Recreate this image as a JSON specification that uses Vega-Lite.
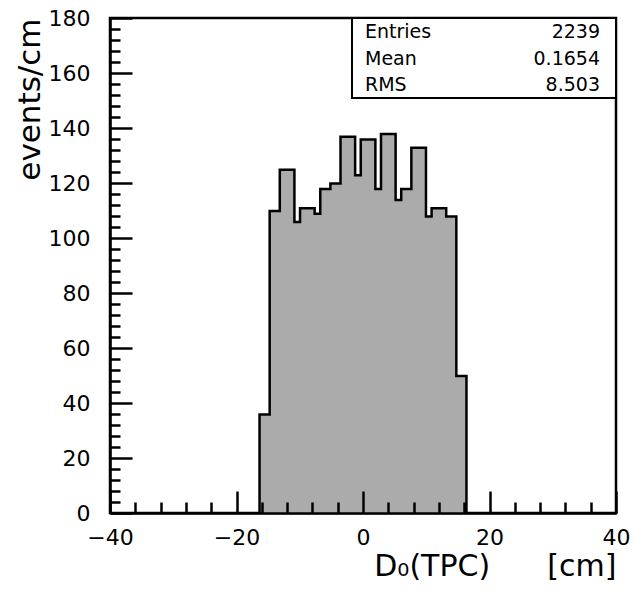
{
  "$schema": "https://vega.github.io/schema/vega-lite/v6.json",
  "width": 506,
  "height": 495,
  "autosize": "none",
  "padding": {"left": 110, "top": 18, "right": 17, "bottom": 78},
  "background": "white",
  "config": {
    "view": {"stroke": "black", "strokeWidth": 2.5},
    "axis": {
      "domainColor": "black", "domainWidth": 2.5, "tickColor": "black", "tickWidth": 2.5,
      "labelFont": "DejaVu Sans", "labelColor": "black",
      "titleFont": "DejaVu Sans", "titleColor": "black", "titleFontWeight": "normal",
      "grid": false, "zindex": 2, "labelOverlap": false, "labelFlush": false
    }
  },
  "data": {
    "values": [
      {"lo": -16.0, "hi": -14.4, "count": 35},
      {"lo": -14.4, "hi": -12.8, "count": 109},
      {"lo": -12.8, "hi": -11.2, "count": 124},
      {"lo": -11.2, "hi": -9.6, "count": 105},
      {"lo": -9.6, "hi": -8.0, "count": 110},
      {"lo": -8.0, "hi": -6.4, "count": 108},
      {"lo": -6.4, "hi": -4.8, "count": 117},
      {"lo": -4.8, "hi": -3.2, "count": 119},
      {"lo": -3.2, "hi": -1.6, "count": 136},
      {"lo": -1.6, "hi": 0.0, "count": 122},
      {"lo": 0.0, "hi": 1.6, "count": 135},
      {"lo": 1.6, "hi": 3.2, "count": 117},
      {"lo": 3.2, "hi": 4.8, "count": 137},
      {"lo": 4.8, "hi": 6.4, "count": 113},
      {"lo": 6.4, "hi": 8.0, "count": 117},
      {"lo": 8.0, "hi": 9.6, "count": 132},
      {"lo": 9.6, "hi": 11.2, "count": 107},
      {"lo": 11.2, "hi": 12.8, "count": 110},
      {"lo": 12.8, "hi": 14.4, "count": 107},
      {"lo": 14.4, "hi": 16.0, "count": 49}
    ]
  },
  "layer": [
    {
      "mark": {"type": "bar", "fill": "#ababab", "stroke": "black", "strokeWidth": 7, "strokeJoin": "miter", "clip": true},
      "encoding": {
        "x": {"field": "lo", "type": "quantitative", "scale": {"domain": [-40, 40], "nice": false, "zero": false}, "axis": null},
        "x2": {"field": "hi"},
        "y": {"field": "count", "type": "quantitative", "scale": {"domain": [0, 180], "nice": false, "zero": false}, "axis": null},
        "y2": {"datum": 0}
      }
    },
    {
      "mark": {"type": "bar", "fill": "#ababab", "stroke": "#ababab", "strokeWidth": 2},
      "encoding": {
        "x": {"field": "lo", "type": "quantitative", "scale": {"domain": [-40, 40], "nice": false, "zero": false}, "axis": null},
        "x2": {"field": "hi"},
        "y": {"field": "count", "type": "quantitative", "scale": {"domain": [0, 180], "nice": false, "zero": false}, "axis": null},
        "y2": {"datum": 0}
      }
    },
    {
      "mark": {"type": "bar", "opacity": 0},
      "encoding": {
        "x": {"field": "lo", "type": "quantitative", "scale": {"domain": [-40, 40], "nice": false, "zero": false},
              "axis": {"orient": "bottom", "zindex": 2, "ticks": true, "domain": true,
                       "values": [-40,-36,-32,-28,-24,-20,-16,-12,-8,-4,0,4,8,12,16,20,24,28,32,36,40],
                       "tickSize": {"condition": {"test": "datum.value % 20 === 0", "value": -22}, "value": -11},
                       "labelExpr": "datum.value % 20 === 0 ? datum.label : ''",
                       "labelFontSize": {"condition": {"test": "datum.value % 20 === 0", "value": 22}, "value": 0},
                       "labelPadding": 36,
                       "title": "D₀(TPC)\u00a0\u00a0\u00a0\u00a0\u00a0\u00a0[cm]", "titleFontSize": 30, "titleAnchor": "end", "titlePadding": 3}},
        "x2": {"field": "hi"},
        "y": {"field": "count", "type": "quantitative", "scale": {"domain": [0, 180], "nice": false, "zero": false},
              "axis": {"orient": "left", "zindex": 2, "ticks": true, "domain": true,
                       "values": [0,4,8,12,16,20,24,28,32,36,40,44,48,52,56,60,64,68,72,76,80,84,88,92,96,100,104,108,112,116,120,124,128,132,136,140,144,148,152,156,160,164,168,172,176,180],
                       "tickSize": {"condition": {"test": "datum.value % 20 === 0", "value": -22}, "value": -10},
                       "labelExpr": "datum.value % 20 === 0 ? datum.label : ''",
                       "labelFontSize": {"condition": {"test": "datum.value % 20 === 0", "value": 22}, "value": 0},
                       "labelPadding": 42,
                       "title": "events/cm", "titleFontSize": 31, "titleAnchor": "end", "titlePadding": 2}},
        "y2": {"datum": 0}
      }
    },
    {
      "data": {"values": [{"box": "stats"}]},
      "mark": {"type": "rect", "fill": "white", "stroke": "black", "strokeWidth": 2},
      "encoding": {
        "x": {"datum": -1.74, "type": "quantitative", "scale": {"domain": [-40, 40], "nice": false, "zero": false}, "axis": null},
        "x2": {"datum": 40},
        "y": {"datum": 150.9, "type": "quantitative", "scale": {"domain": [0, 180], "nice": false, "zero": false}, "axis": null},
        "y2": {"datum": 180}
      }
    },
    {
      "data": {"values": [{"stat": "Entries", "value": "2239"}]},
      "encoding": {
        "y": {"datum": 172.7, "type": "quantitative", "scale": {"domain": [0, 180], "nice": false, "zero": false}, "axis": null}
      },
      "layer": [
        {"mark": {"type": "text", "font": "DejaVu Sans", "fontSize": 19, "align": "left", "baseline": "alphabetic", "dx": 13, "color": "black"},
         "encoding": {"x": {"datum": -1.74, "type": "quantitative", "scale": {"domain": [-40, 40], "nice": false, "zero": false}, "axis": null}, "text": {"field": "stat"}}},
        {"mark": {"type": "text", "font": "DejaVu Sans", "fontSize": 19, "align": "right", "baseline": "alphabetic", "dx": -16, "color": "black"},
         "encoding": {"x": {"datum": 40, "type": "quantitative", "scale": {"domain": [-40, 40], "nice": false, "zero": false}, "axis": null}, "text": {"field": "value"}}}
      ]
    },
    {
      "data": {"values": [{"stat": "Mean", "value": "0.1654"}]},
      "encoding": {
        "y": {"datum": 162.9, "type": "quantitative", "scale": {"domain": [0, 180], "nice": false, "zero": false}, "axis": null}
      },
      "layer": [
        {"mark": {"type": "text", "font": "DejaVu Sans", "fontSize": 19, "align": "left", "baseline": "alphabetic", "dx": 13, "color": "black"},
         "encoding": {"x": {"datum": -1.74, "type": "quantitative", "scale": {"domain": [-40, 40], "nice": false, "zero": false}, "axis": null}, "text": {"field": "stat"}}},
        {"mark": {"type": "text", "font": "DejaVu Sans", "fontSize": 19, "align": "right", "baseline": "alphabetic", "dx": -16, "color": "black"},
         "encoding": {"x": {"datum": 40, "type": "quantitative", "scale": {"domain": [-40, 40], "nice": false, "zero": false}, "axis": null}, "text": {"field": "value"}}}
      ]
    },
    {
      "data": {"values": [{"stat": "RMS", "value": "8.503"}]},
      "encoding": {
        "y": {"datum": 153.5, "type": "quantitative", "scale": {"domain": [0, 180], "nice": false, "zero": false}, "axis": null}
      },
      "layer": [
        {"mark": {"type": "text", "font": "DejaVu Sans", "fontSize": 19, "align": "left", "baseline": "alphabetic", "dx": 13, "color": "black"},
         "encoding": {"x": {"datum": -1.74, "type": "quantitative", "scale": {"domain": [-40, 40], "nice": false, "zero": false}, "axis": null}, "text": {"field": "stat"}}},
        {"mark": {"type": "text", "font": "DejaVu Sans", "fontSize": 19, "align": "right", "baseline": "alphabetic", "dx": -16, "color": "black"},
         "encoding": {"x": {"datum": 40, "type": "quantitative", "scale": {"domain": [-40, 40], "nice": false, "zero": false}, "axis": null}, "text": {"field": "value"}}}
      ]
    }
  ],
  "resolve": {"axis": {"x": "independent", "y": "independent"}}
}
